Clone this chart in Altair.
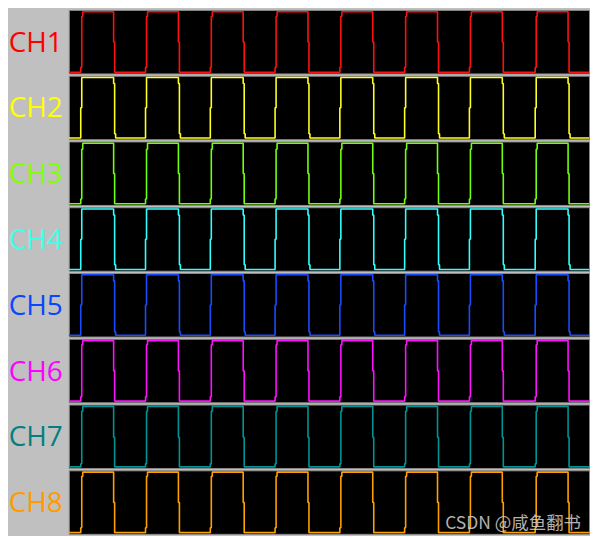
import altair as alt
import pandas as pd

# ---- data (time axis in screen-sample units 0..522) ----
channels = ["CH1", "CH2", "CH3", "CH4", "CH5", "CH6", "CH7", "CH8"]
label_colors = ["#ff0000", "#ffff00", "#80ff00", "#40ffe8", "#0a45ff", "#ff00ff", "#008080", "#ff9a00"]
line_colors = ["#ff1010", "#ffff20", "#70ff10", "#30ffff", "#1a4cff", "#ff10ff", "#009494", "#ffa000"]

rise_edges = [12, 77, 142, 207, 272, 337, 402, 468]
fall_edges = [45, 110, 175, 240, 305, 370, 435, 501]
t_end = 522

# intermediate sample levels seen on the slow edges of each channel
rise_steps = {
    "CH1": [0.08, 0.92], "CH2": [0.5], "CH3": [0.08, 0.9], "CH4": [0.5],
    "CH5": [0.5], "CH6": [0.07, 0.93], "CH7": [0.05, 0.92], "CH8": [0.08, 0.93],
}
fall_steps = {
    "CH1": [0.5], "CH2": [0.9, 0.07], "CH3": [0.5], "CH4": [0.9, 0.08],
    "CH5": [0.9, 0.06], "CH6": [0.5], "CH7": [0.49], "CH8": [0.5],
}
watermark = "CSDN @咸鱼翻书"

rows = []
for ch in channels:
    pts = [(0, 0.0)]
    for r, f in zip(rise_edges, fall_edges):
        for i, lv in enumerate(rise_steps[ch]):
            pts.append((r + i, lv))
        pts.append((r + len(rise_steps[ch]), 1.0))
        for i, lv in enumerate(fall_steps[ch]):
            pts.append((f + i, lv))
        pts.append((f + len(fall_steps[ch]), 0.0))
    pts.append((t_end, 0.0))
    for t, v in pts:
        rows.append({"ch": ch, "t": t, "v": v})
df = pd.DataFrame(rows)

W = 522
H = 63.75

panels = []
for idx, ch in enumerate(channels):
    base = alt.Chart(df).transform_filter(alt.datum.ch == ch)
    line = base.mark_line(
        interpolate="step-after", color=line_colors[idx], strokeWidth=1.6,
        strokeJoin="bevel", clip=True,
    ).encode(
        x=alt.X("t:Q", scale=alt.Scale(domain=[0, W], nice=False, zero=False), axis=None),
        y=alt.Y("v:Q", scale=alt.Scale(domain=[-0.02, 1.03], nice=False, zero=False), axis=None),
    )
    label = alt.Chart(pd.DataFrame({"lab": [ch]})).mark_text(
        align="right", baseline="middle", fontSize=28, font="Open Sans",
        color=label_colors[idx],
    ).encode(text="lab:N", x=alt.value(-6), y=alt.value(H / 2 + 2))
    layers = [line, label]
    if ch == "CH8":
        wm = alt.Chart(pd.DataFrame({"txt": [watermark]})).mark_text(
            align="right", baseline="alphabetic", fontSize=17.5, font="Noto Sans CJK SC",
            color="#d0d0d0", opacity=0.85,
        ).encode(text="txt:N", x=alt.value(514), y=alt.value(59))
        layers.append(wm)
    panels.append(alt.layer(*layers).properties(width=W, height=H))

chart = alt.vconcat(*panels, spacing=2, bounds="flush").properties(
    background="#c0c0c0", padding=0
).configure_view(fill="#000000", stroke="#8a8a8a", strokeWidth=1)

chart.save("out.html", embed_options={"renderer": "svg", "actions": False})
